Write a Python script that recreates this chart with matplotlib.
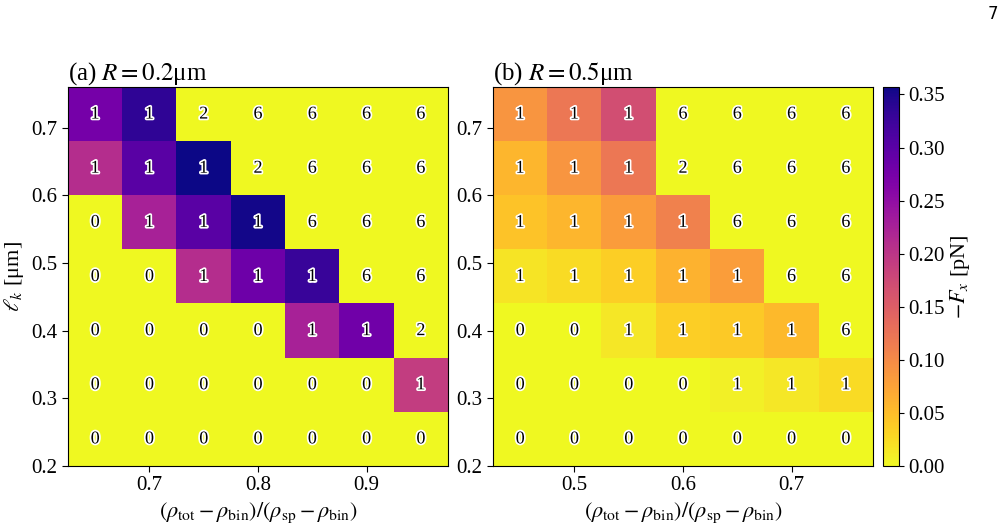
import matplotlib
matplotlib.use("Agg")
import matplotlib.pyplot as plt
import matplotlib.patheffects as pe
import numpy as np

plt.rcParams['font.family'] = ['Liberation Serif', 'DejaVu Serif']
plt.rcParams['mathtext.fontset'] = 'stix'
plt.rcParams['font.size'] = 15

# row order: top (l_k = 0.72) to bottom (l_k = 0.24)
force_a = [
    [0.275, 0.336, 0.0, 0.0, 0.0, 0.0, 0.0],
    [0.210, 0.300, 0.357, 0.0, 0.0, 0.0, 0.0],
    [0.0, 0.225, 0.300, 0.353, 0.0, 0.0, 0.0],
    [0.0, 0.0, 0.210, 0.282, 0.328, 0.0, 0.0],
    [0.0, 0.0, 0.0, 0.0, 0.225, 0.280, 0.0],
    [0.0, 0.0, 0.0, 0.0, 0.0, 0.0, 0.190],
    [0.0, 0.0, 0.0, 0.0, 0.0, 0.0, 0.0],
]
labels_a = [
    [1, 1, 2, 6, 6, 6, 6],
    [1, 1, 1, 2, 6, 6, 6],
    [0, 1, 1, 1, 6, 6, 6],
    [0, 0, 1, 1, 1, 6, 6],
    [0, 0, 0, 0, 1, 1, 2],
    [0, 0, 0, 0, 0, 0, 1],
    [0, 0, 0, 0, 0, 0, 0],
]
force_b = [
    [0.089, 0.120, 0.170, 0.0, 0.0, 0.0, 0.0],
    [0.057, 0.089, 0.120, 0.0, 0.0, 0.0, 0.0],
    [0.046, 0.057, 0.082, 0.110, 0.0, 0.0, 0.0],
    [0.018, 0.025, 0.036, 0.060, 0.080, 0.0, 0.0],
    [0.0, 0.0, 0.014, 0.036, 0.040, 0.053, 0.0],
    [0.0, 0.0, 0.0, 0.0, 0.007, 0.014, 0.025],
    [0.0, 0.0, 0.0, 0.0, 0.0, 0.0, 0.0],
]
labels_b = [
    [1, 1, 1, 6, 6, 6, 6],
    [1, 1, 1, 2, 6, 6, 6],
    [1, 1, 1, 1, 6, 6, 6],
    [1, 1, 1, 1, 1, 6, 6],
    [0, 0, 1, 1, 1, 1, 6],
    [0, 0, 0, 0, 1, 1, 1],
    [0, 0, 0, 0, 0, 0, 0],
]
x_a = [0.65, 0.70, 0.75, 0.80, 0.85, 0.90, 0.95]
x_b = [0.45, 0.50, 0.55, 0.60, 0.65, 0.70, 0.75]
lk = [0.72, 0.64, 0.56, 0.48, 0.40, 0.32, 0.24]

vmax = 0.357
fig = plt.figure(figsize=(10.05, 5.31), dpi=100)
ax1 = fig.add_axes([68/1005, 1-466/531, 380/1005, 379/531])
ax2 = fig.add_axes([493/1005, 1-466/531, 380/1005, 379/531])
cax = fig.add_axes([883/1005, 1-466/531, 16/1005, 379/531])

def panel(ax, xs, data, labels, title):
    dx = xs[1] - xs[0]
    dy = lk[0] - lk[1]
    ext = [xs[0]-dx/2, xs[-1]+dx/2, lk[-1]-dy/2, lk[0]+dy/2]
    im = ax.imshow(np.array(data), cmap='plasma_r', vmin=0, vmax=vmax,
                   extent=ext, aspect='auto', interpolation='nearest')
    for i, y in enumerate(lk):
        for j, x in enumerate(xs):
            ax.text(x, y, str(labels[i][j]), ha='center', va='center',
                    color='black', fontsize=13,
                    path_effects=[pe.withStroke(linewidth=2.5, foreground='white')])
    ax.set_xlim(ext[0], ext[1])
    ax.set_ylim(0.2, 0.76)
    ax.set_yticks([0.2, 0.3, 0.4, 0.5, 0.6, 0.7])
    ax.set_title(title, loc='left', fontsize=18, pad=5)
    ax.set_xlabel(r'$(\rho_{\rm tot}-\rho_{\rm bin})/(\rho_{\rm sp}-\rho_{\rm bin})$',
                  fontsize=16)
    ax.tick_params(direction='out', length=4)
    return im

im = panel(ax1, x_a, force_a, labels_a, r'(a) $R=0.2$μm')
panel(ax2, x_b, force_b, labels_b, r'(b) $R=0.5$μm')
ax1.set_xticks([0.7, 0.8, 0.9])
ax2.set_xticks([0.5, 0.6, 0.7])
ax1.set_ylabel(r'$\ell_k$ [μm]', fontsize=16)

cb = fig.colorbar(im, cax=cax)
cb.set_ticks([0, 0.05, 0.10, 0.15, 0.20, 0.25, 0.30, 0.35])
cb.set_label(r'$-F_x$ [pN]', labelpad=2, fontsize=16)

fig.text(993/1005, 1-14/531, '7', ha='center', va='center', fontsize=12,
         family='DejaVu Sans')

fig.savefig('out.png', dpi=100)
